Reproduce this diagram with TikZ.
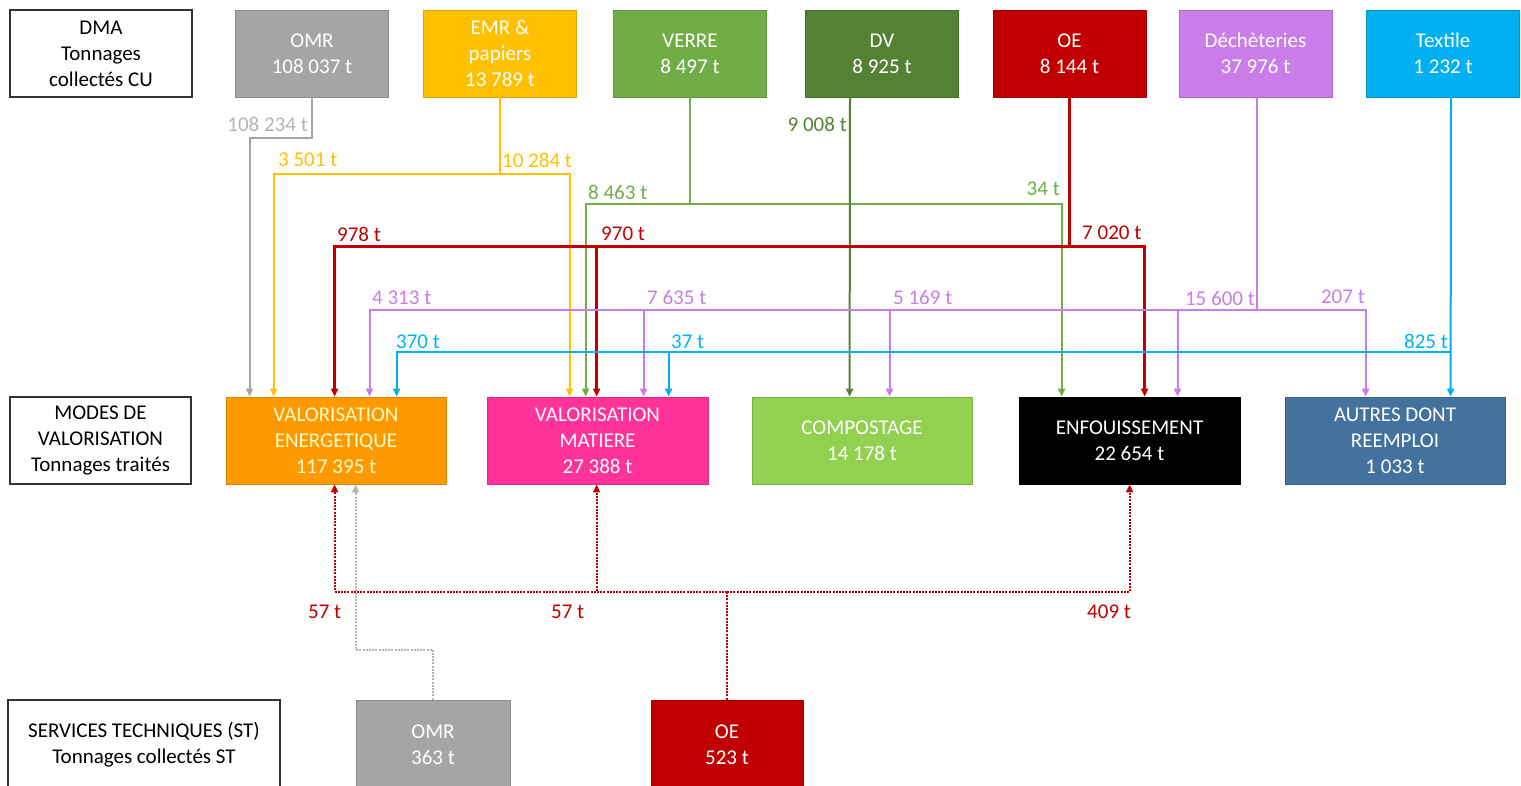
\documentclass[tikz,border=0pt]{standalone}
\usepackage{fontspec}
\setmainfont{Carlito}
\usetikzlibrary{arrows.meta,calc}
\definecolor{cgray}{HTML}{A5A5A5}
\definecolor{cgrayl}{HTML}{B4B4B4}
\definecolor{cyel}{HTML}{FFC000}
\definecolor{cverre}{HTML}{70AD47}
\definecolor{cdv}{HTML}{548235}
\definecolor{cred}{HTML}{C00000}
\definecolor{cpur}{HTML}{C87DE8}
\definecolor{ccyan}{HTML}{00B0F0}
\definecolor{corange}{HTML}{FF9900}
\definecolor{cpink}{HTML}{FF3399}
\definecolor{ccomp}{HTML}{92D050}
\definecolor{cautres}{HTML}{44729F}
\begin{document}
\begin{tikzpicture}[x=1pt,y=-1pt,
  box/.style={draw=#1!85!black, fill=#1, text=white, minimum width=153pt, minimum height=87pt,
    align=center, inner sep=0pt, font=\fontsize{21}{26}\selectfont, line width=0.8pt},
  wbox/.style={draw=black!80, fill=white, text=black, minimum height=87pt,
    align=center, inner sep=0pt, font=\fontsize{21}{26}\selectfont, line width=1.2pt},
  lab/.style={text=#1, font=\fontsize{21}{25}\selectfont, inner sep=1pt},
  ln/.style={draw=#1, line width=2pt},
  arr/.style={-{Triangle[length=8pt,width=7pt]}},
  rdot/.style={draw=cred, line width=2pt, dash pattern=on 2pt off 1.2pt},
  gdot/.style={draw=cgrayl, line width=2pt, dash pattern=on 2pt off 1.2pt}]
\useasboundingbox (0,0) rectangle (1521,785);

% top row
\node[wbox, minimum width=182pt] (dma) at (101,53.5) {DMA\\Tonnages\\collectés CU};
\node[box=cgray] (omr) at (312,53.5) {OMR\\108 037 t};
\node[box=cyel] (emr) at (500,53.5) {EMR \&\\papiers\\13 789 t};
\node[box=cverre] (verre) at (690,53.5) {VERRE\\8 497 t};
\node[box=cdv] (dv) at (882,53.5) {DV\\8 925 t};
\node[box=cred] (oe) at (1069.5,53.5) {OE\\8 144 t};
\node[box=cpur] (dech) at (1255.5,53.5) {Déchèteries\\37 976 t};
\node[box=ccyan] (tex) at (1443,53.5) {Textile\\1 232 t};

% middle row
\node[wbox, minimum width=181pt] (modes) at (100.5,440.5) {MODES DE\\VALORISATION\\Tonnages traités};
\node[box=corange, minimum width=220pt, text=yellow!20] (ve) at (336,440.5) {VALORISATION\\ENERGETIQUE\\117 395 t};
\node[box=cpink, minimum width=221pt] (mat) at (597.5,440.5) {VALORISATION\\MATIERE\\27 388 t};
\node[box=ccomp, minimum width=220pt] (comp) at (862,440.5) {COMPOSTAGE\\14 178 t};
\node[box=black, minimum width=221pt] (enf) at (1129.5,440.5) {ENFOUISSEMENT\\22 654 t};
\node[box=cautres, minimum width=220pt] (aut) at (1395,440.5) {AUTRES DONT\\REEMPLOI\\1 033 t};

% bottom row
\node[wbox, minimum width=272pt, minimum height=90pt] (serv) at (144,745) {SERVICES TECHNIQUES (ST)\\Tonnages collectés ST};
\node[box=cgray, minimum width=154pt, minimum height=90pt] (omr2) at (433,745) {OMR\\363 t};
\node[box=cred, minimum width=152pt, minimum height=90pt] (oe2) at (727,745) {OE\\523 t};

% gray OMR
\draw[ln=cgray,arr] (omr.south) -- ++(0,41) -| ($(ve.north west)+(24,0)$);
% yellow EMR
\draw[ln=cyel] (emr.south) -- ++(0,77) coordinate (yj);
\draw[ln=cyel,arr] (yj) -| ($(ve.north west)+(48,0)$);
\draw[ln=cyel,arr] (yj) -| ($(mat.north west)+(83,0)$);
% green VERRE
\draw[ln=cverre] (verre.south) -- ++(0,107) coordinate (gj);
\draw[ln=cverre,arr] (gj) -| ($(mat.north west)+(99,0)$);
\draw[ln=cverre,arr] (gj) -| ($(enf.north west)+(43,0)$);
% DV
\draw[ln=cdv,arr] ($(dv.south)+(-32,0)$) -- ($(comp.north west)+(98,0)$);
% red OE
\draw[ln=cred, line width=2.6pt] (oe.south) -- ++(0,149) coordinate (rj);
\draw[ln=cred,line width=2.6pt,arr] (rj) -| ($(ve.north west)+(109,0)$);
\draw[ln=cred,line width=2.6pt,arr] (rj) -| ($(mat.north west)+(110,0)$);
\draw[ln=cred,line width=2.6pt,arr] (rj) -| ($(enf.north west)+(126,0)$);
% purple dechetteries
\draw[ln=cpur] ($(dech.south)+(1.5,0)$) -- ++(0,213) coordinate (pj);
\draw[ln=cpur,arr] (pj) -| ($(ve.north west)+(144,0)$);
\draw[ln=cpur,arr] (pj) -| ($(mat.north west)+(157,0)$);
\draw[ln=cpur,arr] (pj) -| ($(comp.north west)+(138,0)$);
\draw[ln=cpur,arr] (pj) -| ($(enf.north west)+(159,0)$);
\draw[ln=cpur,arr] (pj) -| ($(aut.north west)+(81,0)$);
% cyan textile
\draw[ln=ccyan,arr] ($(tex.south)+(8,0)$) -- ($(aut.north west)+(166,0)$);
\coordinate (cj) at ($(tex.south)+(8,255)$);
\draw[ln=ccyan,arr] (cj) -| ($(ve.north west)+(171,0)$);
\draw[ln=ccyan,arr] (cj) -| ($(mat.north west)+(182,0)$);

% bottom dotted
\draw[rdot] (oe2.north) -- ++(0,-108) coordinate (bj);
\draw[rdot,arr] (bj) -| ($(ve.south west)+(109,0)$);
\draw[rdot,arr] (bj) -| ($(mat.south west)+(110,0)$);
\draw[rdot,arr] (bj) -| ($(enf.south west)+(111,0)$);
\draw[gdot,arr] (omr2.north) -- ++(0,-50) -| ($(ve.south west)+(130,0)$);

% labels
\node[lab=cgrayl, anchor=east] (l1) at (309,124) {108 234 t};
\node[lab=cyel, anchor=west] (l2) at (277,160) {3 501 t};
\node[lab=cyel, anchor=west] (l3) at (501,160) {10 284 t};
\node[lab=cverre, anchor=west] (l4) at (587,192) {8 463 t};
\node[lab=cverre, anchor=east] (l5) at (1061,189) {34 t};
\node[lab=cdv, anchor=east] (l6) at (848,124) {9 008 t};
\node[lab=cred, anchor=west] (l7) at (336,234) {978 t};
\node[lab=cred, anchor=west] (l8) at (600,234) {970 t};
\node[lab=cred, anchor=west] (l9) at (1081,233) {7 020 t};
\node[lab=cpur, anchor=west] (l10) at (371,298) {4 313 t};
\node[lab=cpur, anchor=west] (l11) at (646,297) {7 635 t};
\node[lab=cpur, anchor=west] (l12) at (892,297) {5 169 t};
\node[lab=cpur, anchor=east] (l13) at (1256,298) {15 600 t};
\node[lab=cpur, anchor=east] (l14) at (1366,297) {207 t};
\node[lab=ccyan, anchor=west] (l15) at (395,342) {370 t};
\node[lab=ccyan, anchor=west] (l16) at (670,342) {37 t};
\node[lab=ccyan, anchor=east] (l17) at (1449,341) {825 t};
\node[lab=cred, anchor=west] (l18) at (307,612) {57 t};
\node[lab=cred, anchor=west] (l19) at (550,612) {57 t};
\node[lab=cred, anchor=west] (l20) at (1086,612) {409 t};
\end{tikzpicture}
\end{document}
